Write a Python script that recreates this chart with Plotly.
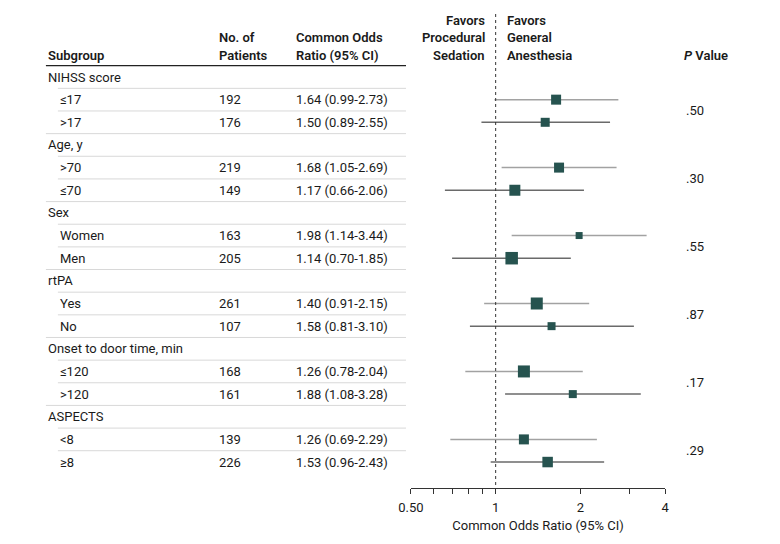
import plotly.graph_objects as go
import math

# ---- data ----
groups = ["NIHSS score", "Age, y", "Sex", "rtPA", "Onset to door time, min", "ASPECTS"]
subgroups = ["≤17", ">17", ">70", "≤70", "Women", "Men", "Yes", "No", "≤120", ">120", "<8", "≥8"]
patients = [192, 176, 219, 149, 163, 205, 261, 107, 168, 161, 139, 226]
odds = [1.64, 1.50, 1.68, 1.17, 1.98, 1.14, 1.40, 1.58, 1.26, 1.88, 1.26, 1.53]
ci_lo = [0.99, 0.89, 1.05, 0.66, 1.14, 0.70, 0.91, 0.81, 0.78, 1.08, 0.69, 0.96]
ci_hi = [2.73, 2.55, 2.69, 2.06, 3.44, 1.85, 2.15, 3.10, 2.04, 3.28, 2.29, 2.43]
pvalues = [".50", ".30", ".55", ".87", ".17", ".29"]
marker_sizes = [10, 9, 10, 11, 7, 12.5, 12, 8, 12, 8, 10, 10.5]
tick_vals = [0.5, 0.6, 0.7, 0.8, 0.9, 1, 2, 3, 4]
tick_text = ["0.50", "", "", "", "", "1", "2", "", "4"]

W, H = 780, 544
FONT = "Roboto"
TXT = "#1a1a1a"
ROW0, STEP = 77, 22.65
AX_Y = 488


def px_to_row(p):
    return (p - ROW0) / STEP


def xp(px):
    # horizontal layout position (compensated for the capture's horizontal framing)
    return (px - 12) / 0.9807 / W


fig = go.Figure()

sub_rows = []
for g in range(len(groups)):
    sub_rows += [3 * g + 1, 3 * g + 2]

for k, col in [(0, "#a2a2a2"), (1, "#6a6a6a")]:
    xs, ys = [], []
    for i in range(k, len(subgroups), 2):
        xs += [ci_lo[i], ci_hi[i], None]
        ys += [sub_rows[i], sub_rows[i], None]
    fig.add_trace(go.Scatter(x=xs, y=ys, mode="lines",
                             line=dict(color=col, width=1.5),
                             hoverinfo="skip", showlegend=False))

fig.add_trace(go.Scatter(x=odds, y=sub_rows, mode="markers",
                         marker=dict(symbol="square", size=marker_sizes,
                                     color="#26534f", opacity=1, line=dict(width=0)),
                         showlegend=False))

shapes = []
shapes.append(dict(type="line", xref="paper", yref="y", x0=xp(45), x1=xp(406),
                   y0=-0.5, y1=-0.5, line=dict(color="#222", width=1.3)))
for r in range(1, 18):
    x0 = 45 if r % 3 == 0 else 57
    shapes.append(dict(type="line", xref="paper", yref="y", x0=xp(x0), x1=xp(406),
                       y0=r - 0.5, y1=r - 0.5, line=dict(color="#d8d8d8", width=1)))
shapes.append(dict(type="line", xref="x", yref="y", x0=1, x1=1,
                   y0=px_to_row(14), y1=px_to_row(AX_Y),
                   line=dict(color="#333", width=1, dash="dot")))

ann = []


def add_text(x, row, text, anchor="left", bold=False, size=13):
    ann.append(dict(xref="paper", yref="y", x=xp(x), y=row, text=text,
                    xanchor=anchor, yanchor="middle", showarrow=False,
                    font=dict(family=FONT, size=size, color=TXT,
                              weight=600 if bold else 400)))


h3, h2, h1 = px_to_row(55), px_to_row(37.5), px_to_row(20)
add_text(45, h3, "Subgroup", bold=True)
add_text(217, h2, "No. of", bold=True)
add_text(217, h3, "Patients", bold=True)
add_text(294, h2, "Common Odds", bold=True)
add_text(294, h3, "Ratio (95% CI)", bold=True)
add_text(487, h1, "Favors", anchor="right", bold=True)
add_text(487, h2, "Procedural", anchor="right", bold=True)
add_text(487, h3, "Sedation", anchor="right", bold=True)
add_text(505, h1, "Favors", bold=True)
add_text(505, h2, "General", bold=True)
add_text(505, h3, "Anesthesia", bold=True)
add_text(683, h3, "<i>P</i> Value", bold=True)

for g, name in enumerate(groups):
    add_text(45, 3 * g, name)
    add_text(685, 3 * g + 1.5, pvalues[g])

for i, name in enumerate(subgroups):
    r = sub_rows[i]
    add_text(57, r, name)
    add_text(217, r, str(patients[i]))
    add_text(294, r, f"{odds[i]:.2f} ({ci_lo[i]:.2f}-{ci_hi[i]:.2f})")

fig.update_layout(
    width=W, height=H,
    margin=dict(l=0, r=0, t=0, b=0),
    paper_bgcolor="white", plot_bgcolor="white",
    shapes=shapes, annotations=ann,
    font=dict(family=FONT, size=13, color=TXT),
    xaxis=dict(type="log", range=[math.log10(0.5), math.log10(4)],
               domain=[xp(411), xp(665.7)],
               tickvals=tick_vals, ticktext=tick_text,
               ticks="outside", ticklen=5, tickcolor="#333", tickwidth=1,
               ticklabelstandoff=2,
               showline=True, linecolor="#333", linewidth=1,
               showgrid=False, zeroline=False,
               tickfont=dict(family=FONT, size=13, color=TXT),
               title=dict(text="Common Odds Ratio (95% CI)", standoff=7,
                          font=dict(family=FONT, size=13, color=TXT))),
    yaxis=dict(domain=[(H - AX_Y) / H, 1],
               range=[px_to_row(AX_Y), px_to_row(0)],
               visible=False, showgrid=False, zeroline=False),
)

fig.write_html("out.html", config={"displayModeBar": False},
               post_script="document.body.style.margin='0';document.body.style.overflow='hidden';")
